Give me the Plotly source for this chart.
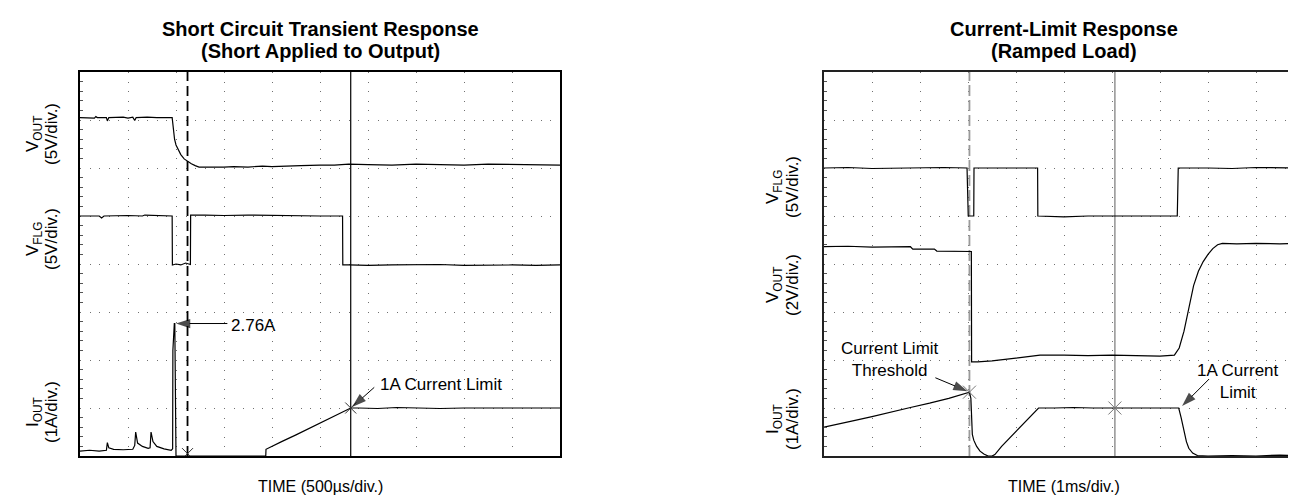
import plotly.graph_objects as go

# ---------------- data (time and signal in scope divisions) ----------------
# Left panel: Short Circuit Transient Response
vout_l_t = [0, 0.3, 0.33, 0.36, 0.55, 0.57, 0.6, 0.9, 1.0, 1.1, 1.14, 1.17, 1.4, 1.6, 1.92, 1.94, 1.97, 2.0,
            2.04, 2.1, 2.17, 2.25, 2.32, 2.4, 2.48, 3.0, 3.2, 3.5, 3.8, 4.0, 4.4, 4.6, 5.0, 5.3, 5.6, 5.8,
            6.0, 6.5, 7.0, 7.5, 8.0, 8.5, 9.0, 9.5, 10.0]
vout_l_v = [7.05, 7.04, 7.07, 7.05, 7.05, 6.98, 7.05, 7.06, 7.04, 7.06, 6.99, 7.05, 7.06, 7.05, 7.05, 6.85, 6.6, 6.48,
            6.4, 6.28, 6.19, 6.13, 6.09, 6.05, 6.02, 6.02, 6.03, 6.02, 6.04, 6.03, 6.05, 6.05, 6.06, 6.06, 6.08, 6.07,
            6.07, 6.06, 6.08, 6.07, 6.06, 6.08, 6.07, 6.07, 6.06]

vflg_l_t = [0, 0.4, 0.45, 0.5, 1.0, 1.3, 1.35, 1.92, 1.925, 2.0, 2.1, 2.2, 2.3, 2.305, 2.6, 3.0, 3.5, 4.0, 4.5,
            5.0, 5.47, 5.475, 5.6, 6.0, 6.5, 7.0, 7.5, 8.0, 8.5, 9.0, 9.5, 10.0]
vflg_l_v = [5.0, 5.0, 4.96, 5.0, 5.01, 5.0, 5.02, 5.0, 3.98, 4.0, 3.98, 4.02, 3.99, 5.02, 5.02, 5.01, 5.02, 5.01, 5.0,
            5.0, 5.0, 3.98, 3.98, 3.97, 3.98, 3.98, 3.99, 3.97, 3.98, 3.98, 3.97, 3.98]

iout_l_t = [0, 0.2, 0.4, 0.55, 0.57, 0.6, 0.7, 0.9, 1.1, 1.14, 1.16, 1.2, 1.3, 1.42, 1.46, 1.48, 1.52, 1.6, 1.75,
            1.9, 1.93, 1.935, 1.965, 1.975, 2.0, 3.0, 3.87, 3.875, 3.95, 4.2, 4.5, 4.8, 5.1, 5.4, 5.64, 5.8,
            6.2, 6.6, 7.0, 7.5, 8.0, 8.5, 9.0, 9.5, 10.0]
iout_l_v = [0.1, 0.12, 0.1, 0.12, 0.28, 0.17, 0.14, 0.13, 0.14, 0.22, 0.5, 0.27, 0.2, 0.16, 0.17, 0.5, 0.3, 0.2, 0.15,
            0.12, 0.15, 2.2, 2.76, 2.76, 0.0, 0.0, 0.0, 0.14, 0.18, 0.3, 0.44, 0.59, 0.74, 0.88, 1.0, 1.0,
            0.99, 1.01, 1.0, 0.99, 1.0, 1.0, 1.01, 1.0, 1.0]

cursor_l = [2.24, 5.64]
marks_l_t = [2.24, 5.64]
marks_l_v = [0.05, 1.0]

# Right panel: Current-Limit Response (Ramped Load)
vflg_r_t = [0, 0.5, 1.0, 1.5, 2.0, 2.5, 2.98, 2.985, 3.0, 3.005, 3.12, 3.125, 3.5, 4.0, 4.45, 4.455, 5.0, 5.5,
            6.0, 6.5, 7.0, 7.36, 7.37, 7.38, 8.0, 8.5, 9.0, 9.5, 10.0]
vflg_r_v = [6.0, 6.01, 5.99, 6.0, 6.0, 6.01, 6.0, 5.5, 5.45, 5.0, 5.0, 6.0, 6.0, 6.0, 6.0, 5.0, 4.98, 5.0,
            5.0, 5.01, 5.0, 5.0, 5.5, 6.0, 6.0, 5.99, 6.01, 6.0, 6.0]

vout_r_t = [0, 0.5, 1.0, 1.5, 1.8, 1.85, 2.3, 2.35, 2.8, 3.07, 3.075, 3.2, 3.5, 4.0, 4.5, 5.0, 5.5, 6.0, 6.5,
            7.0, 7.3, 7.4, 7.5, 7.6, 7.7, 7.8, 7.9, 8.0, 8.1, 8.2, 8.3, 8.6, 9.0, 9.5, 10.0]
vout_r_v = [4.36, 4.37, 4.35, 4.36, 4.36, 4.31, 4.31, 4.27, 4.27, 4.26, 1.96, 1.96, 1.98, 2.04, 2.1, 2.1, 2.09,
            2.1, 2.09, 2.08, 2.1, 2.25, 2.6, 3.1, 3.55, 3.85, 4.05, 4.2, 4.32, 4.4, 4.43, 4.42, 4.43, 4.42, 4.43]

iout_r_t = [0, 0.3, 0.6, 1.0, 1.4, 1.8, 2.2, 2.6, 3.03, 3.06, 3.09, 3.12, 3.18, 3.25, 3.33, 3.42, 3.5, 3.56,
            3.7, 3.9, 4.1, 4.3, 4.47, 4.8, 5.2, 5.6, 6.06, 6.5, 7.0, 7.39, 7.44, 7.5, 7.55, 7.6, 7.68, 7.78,
            8.0, 8.5, 9.0, 9.5, 10.0]
iout_r_v = [0.6, 0.66, 0.73, 0.82, 0.92, 1.01, 1.1, 1.2, 1.33, 1.2, 0.45, 0.33, 0.2, 0.1, 0.04, 0.0, 0.0, 0.03,
            0.2, 0.41, 0.61, 0.82, 1.0, 1.0, 1.01, 1.0, 1.0, 1.01, 1.0, 1.0, 0.8, 0.5, 0.3, 0.16, 0.06, 0.01,
            0.0, 0.01, 0.0, 0.02, 0.0]

cursor_r = [3.03, 6.06]
marks_r_t = [3.03, 6.06]
marks_r_v = [1.33, 1.0]

# annotation arrows: (tail_t, tail_v) -> (head_t, head_v)
arrow_l_t = [[3.07, 2.0], [6.13, 5.67]]
arrow_l_v = [[2.76, 2.76], [1.43, 1.02]]
arrow_r_t = [[2.32, 2.99], [8.02, 7.46]]
arrow_r_v = [[1.63, 1.35], [1.6, 1.04]]

x_divs = [0, 10]
y_divs = [0, 8]

# ---------------- layout geometry (pixels) ----------------
W, H = 1296, 498
L_X0, L_X1 = 72, 552
R_X0, R_X1 = 816, 1296
Y_TOP, Y_BOT = 64, 448


def px(x):
    return x / W


def py(y):
    return 1 - y / H


FONT = "Liberation Sans, Arial, Helvetica, sans-serif"
TRACE = dict(color="black", width=1.2)

fig = go.Figure()

# cursors
fig.add_trace(go.Scatter(x=[cursor_l[0], cursor_l[0]], y=y_divs, mode="lines",
                         line=dict(color="black", width=1.8, dash="10px,5px"), xaxis="x", yaxis="y",
                         hoverinfo="skip"))
fig.add_trace(go.Scatter(x=[cursor_l[1], cursor_l[1]], y=y_divs, mode="lines",
                         line=dict(color="black", width=1.2), xaxis="x", yaxis="y", hoverinfo="skip"))
fig.add_trace(go.Scatter(x=[cursor_r[0], cursor_r[0]], y=y_divs, mode="lines",
                         line=dict(color="#9a9a9a", width=1.8, dash="11px,4px"), xaxis="x2", yaxis="y2",
                         hoverinfo="skip"))
fig.add_trace(go.Scatter(x=[cursor_r[1], cursor_r[1]], y=y_divs, mode="lines",
                         line=dict(color="#9a9a9a", width=1.6), xaxis="x2", yaxis="y2", hoverinfo="skip"))

# traces
for t, v in [(vout_l_t, vout_l_v), (vflg_l_t, vflg_l_v), (iout_l_t, iout_l_v)]:
    fig.add_trace(go.Scatter(x=t, y=v, mode="lines", line=TRACE, xaxis="x", yaxis="y", cliponaxis=False))
for t, v in [(vflg_r_t, vflg_r_v), (vout_r_t, vout_r_v), (iout_r_t, iout_r_v)]:
    fig.add_trace(go.Scatter(x=t, y=v, mode="lines", line=TRACE, xaxis="x2", yaxis="y2", cliponaxis=False))

# cursor cross marks
fig.add_trace(go.Scatter(x=marks_l_t, y=marks_l_v, mode="markers", xaxis="x", yaxis="y",
                         marker=dict(symbol="x-thin", size=11, line=dict(color="#333", width=1))))
fig.add_trace(go.Scatter(x=marks_r_t, y=marks_r_v, mode="markers", xaxis="x2", yaxis="y2",
                         marker=dict(symbol="x-thin", size=13, line=dict(color="#777", width=1))))

# arrows (line + arrow-head marker at the head end)
for ts, vs, xa, ya in [(arrow_l_t, arrow_l_v, "x", "y"), (arrow_r_t, arrow_r_v, "x2", "y2")]:
    for t, v in zip(ts, vs):
        fig.add_trace(go.Scatter(x=t, y=v, mode="lines+markers", xaxis=xa, yaxis=ya,
                                 line=dict(color="black", width=1),
                                 marker=dict(symbol="arrow", angleref="previous", size=[0, 15],
                                             color="black", line=dict(width=0)),
                                 hoverinfo="skip", cliponaxis=False))

grid = dict(showgrid=True, gridcolor="#707070", gridwidth=1, griddash="1px,8.6px", dtick=1, tick0=0,
            showticklabels=False, ticks="", zeroline=False, fixedrange=True)
ydom = [py(Y_BOT), py(Y_TOP)]
minor_y = dict(dtick=0.2, tick0=0, ticks="inside", ticklen=3, tickcolor="#555", tickwidth=1, showgrid=False)

fig.update_layout(
    width=W, height=H, margin=dict(l=0, r=0, t=0, b=0),
    paper_bgcolor="white", plot_bgcolor="white", showlegend=False,
    font=dict(family=FONT, size=17, color="black"),
    xaxis=dict(domain=[px(L_X0), px(L_X1)], range=x_divs, showline=True, mirror=True,
               linecolor="black", linewidth=1.5, **grid),
    yaxis=dict(domain=ydom, range=y_divs, showline=True, mirror=True, linecolor="black",
               linewidth=1.5, minor=minor_y, **grid),
    xaxis2=dict(domain=[px(R_X0), px(R_X1)], range=x_divs, showline=True, mirror=True,
                linecolor="#222", linewidth=1.5, anchor="y2", **grid),
    yaxis2=dict(domain=ydom, range=y_divs, showline=True, mirror=False, linecolor="#222",
                linewidth=1.5, anchor="x2", minor=minor_y, **grid),
)

ann = []
# titles
for cx, l1, l2 in [((L_X0 + L_X1) / 2, "Short Circuit Transient Response", "(Short Applied to Output)"),
                   ((R_X0 + R_X1) / 2, "Current-Limit Response", "(Ramped Load)")]:
    ann.append(dict(text="<b>%s</b>" % l1, x=px(cx), y=py(21), xref="paper", yref="paper",
                    showarrow=False, font=dict(size=20), xanchor="center", yanchor="middle"))
    ann.append(dict(text="<b>%s</b>" % l2, x=px(cx), y=py(43), xref="paper", yref="paper",
                    showarrow=False, font=dict(size=20), xanchor="center", yanchor="middle"))
# time labels
ann.append(dict(text="TIME (500\u00b5s/div.)", x=px((L_X0 + L_X1) / 2), y=py(478), xref="paper", yref="paper",
                showarrow=False, xanchor="center", yanchor="middle", font=dict(size=16)))
ann.append(dict(text="TIME (1ms/div.)", x=px((R_X0 + R_X1) / 2), y=py(478), xref="paper", yref="paper",
                showarrow=False, xanchor="center", yanchor="middle", font=dict(size=16)))

# channel labels (rotated)
chan = [
    (26, 43, 126, "V<sub>OUT</sub>", "(5V/div.)"),
    (26, 43, 231, "V<sub>FLG</sub>", "(5V/div.)"),
    (26, 43, 404, "I<sub>OUT</sub>", "(1A/div.)"),
    (766, 784, 179, "V<sub>FLG</sub>", "(5V/div.)"),
    (766, 784, 277, "V<sub>OUT</sub>", "(2V/div.)"),
    (766, 784, 411, "I<sub>OUT</sub>", "(1A/div.)"),
]
for x1, x2, yc, a, b in chan:
    ann.append(dict(text=a, x=px(x1), y=py(yc), xref="paper", yref="paper", showarrow=False,
                    textangle=-90, xanchor="center", yanchor="middle", font=dict(size=17)))
    ann.append(dict(text=b, x=px(x2), y=py(yc), xref="paper", yref="paper", showarrow=False,
                    textangle=-90, xanchor="center", yanchor="middle", font=dict(size=17)))

# in-plot text
ann.append(dict(text="2.76A", x=3.1, y=2.72, xref="x", yref="y", showarrow=False, xanchor="left",
                yanchor="middle", font=dict(size=17)))
ann.append(dict(text="1A Current Limit", x=6.2, y=1.5, xref="x", yref="y", showarrow=False,
                xanchor="left", yanchor="middle", font=dict(size=17)))
ann.append(dict(text="Current Limit<br>Threshold", x=1.38, y=2.01, xref="x2", yref="y2", showarrow=False,
                xanchor="center", yanchor="middle", align="center", font=dict(size=17)))
ann.append(dict(text="1A Current<br>Limit", x=8.62, y=1.55, xref="x2", yref="y2", showarrow=False,
                xanchor="center", yanchor="middle", align="center", font=dict(size=17)))

fig.update_layout(annotations=ann)
fig.write_html("out.html")
